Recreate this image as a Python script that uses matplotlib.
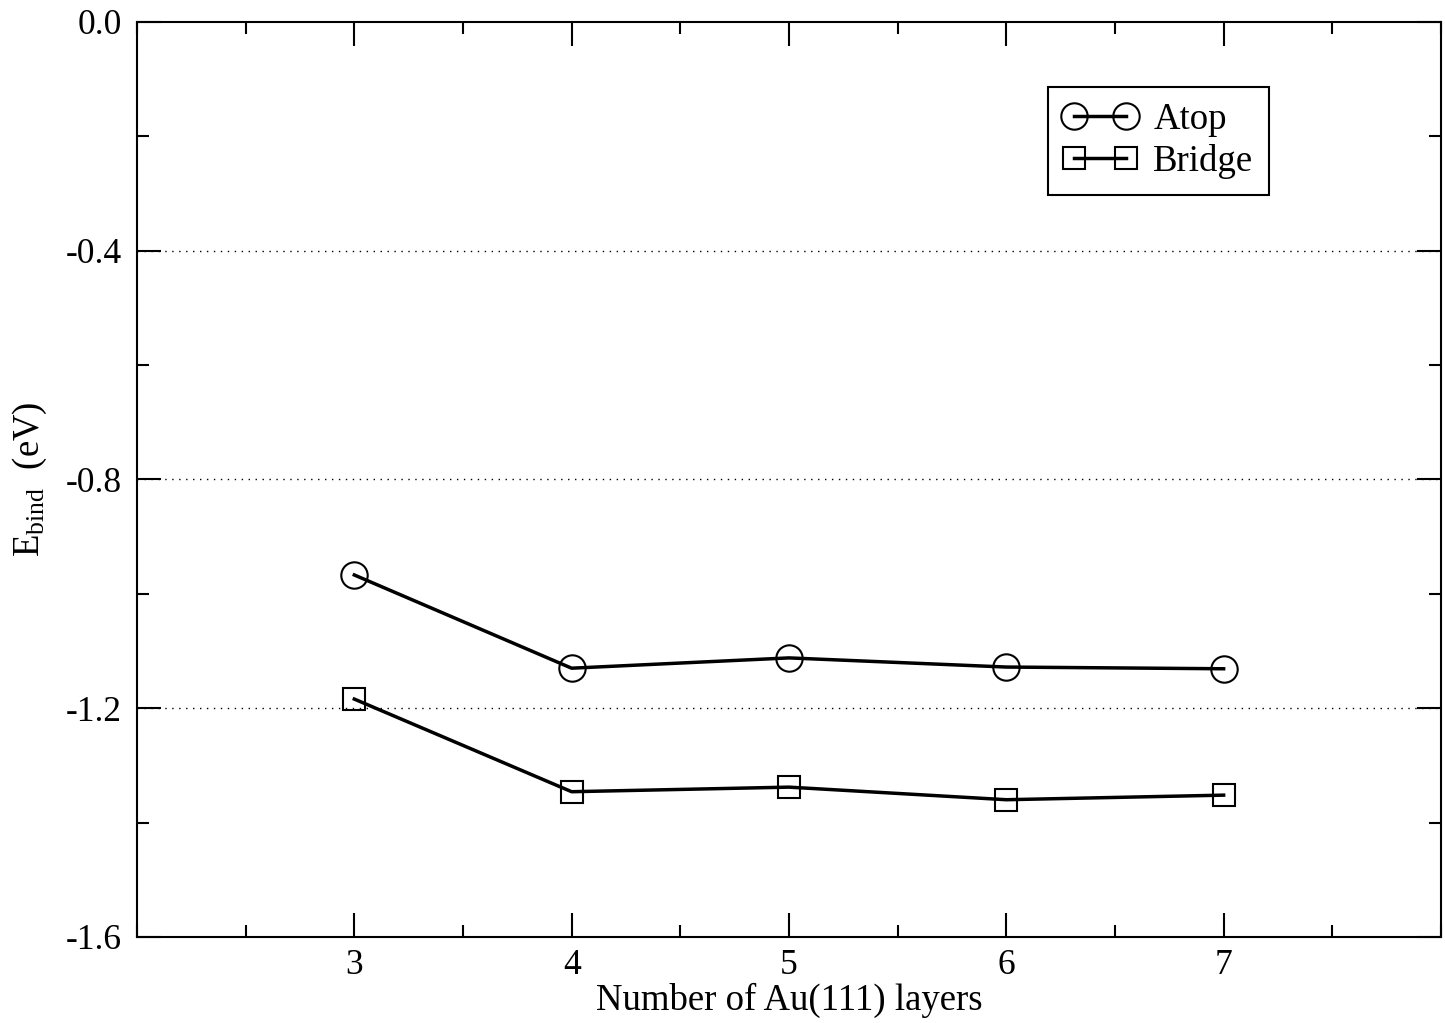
import matplotlib
matplotlib.use('Agg')
import matplotlib.pyplot as plt
from matplotlib.ticker import MultipleLocator, FixedLocator

plt.rcParams['font.family'] = ['Liberation Serif', 'DejaVu Serif']
plt.rcParams['mathtext.fontset'] = 'custom'
plt.rcParams['mathtext.rm'] = 'Liberation Serif'
plt.rcParams['mathtext.it'] = 'Liberation Serif:italic'

# data
layers = [3, 4, 5, 6, 7]
atop = [-0.967, -1.130, -1.112, -1.128, -1.131]
bridge = [-1.184, -1.346, -1.338, -1.360, -1.352]
xticks = [3, 4, 5, 6, 7]
yticks = [0.0, -0.4, -0.8, -1.2, -1.6]
grid_levels = [-0.4, -0.8, -1.2]

fs = 26.5

fig = plt.figure(figsize=(14.45, 10.23), dpi=100)
ax = fig.add_axes([0.0948, 0.0841, 0.9024, 0.8944])

for y in grid_levels:
    ax.axhline(y, color='black', lw=1.0, ls=(0, (1, 4)), zorder=1)

ax.plot(layers, atop, color='black', lw=2.5, marker='o', ms=19,
        mfc='none', mec='black', mew=1.5, label='Atop', zorder=3)
ax.plot(layers, bridge, color='black', lw=2.5, marker='s', ms=16,
        mfc='none', mec='black', mew=1.5, label='Bridge', zorder=3)

ax.set_xlim(2, 8)
ax.set_ylim(-1.6, 0.0)
ax.xaxis.set_major_locator(FixedLocator(xticks))
ax.xaxis.set_minor_locator(MultipleLocator(0.5))
ax.yaxis.set_major_locator(FixedLocator(yticks))
ax.yaxis.set_minor_locator(MultipleLocator(0.2))
ax.set_yticklabels(['%.1f' % v for v in yticks])

ax.tick_params(which='both', direction='in', top=True, right=True,
               labelsize=25.5, width=1.5)
ax.tick_params(axis='y', pad=11)
ax.tick_params(axis='x', pad=9)
ax.tick_params(which='major', length=17)
ax.tick_params(which='minor', length=8.5)
for s in ax.spines.values():
    s.set_linewidth(1.5)

ax.set_xlabel('Number of Au(111) layers', fontsize=fs, labelpad=0)
ax.set_ylabel(r'E$_{\mathrm{bind}}$  (eV)', fontsize=fs, labelpad=12)

leg = ax.legend(loc='upper right', bbox_to_anchor=(0.868, 0.929), numpoints=2,
                fontsize=fs, frameon=True, fancybox=False, handlelength=2.0,
                handletextpad=0.45, borderpad=0.42, labelspacing=0.2,
                borderaxespad=0)
leg.get_frame().set_edgecolor('black')
leg.get_frame().set_linewidth(1.5)
leg.get_frame().set_alpha(1)

fig.savefig('out.png', dpi=100)
